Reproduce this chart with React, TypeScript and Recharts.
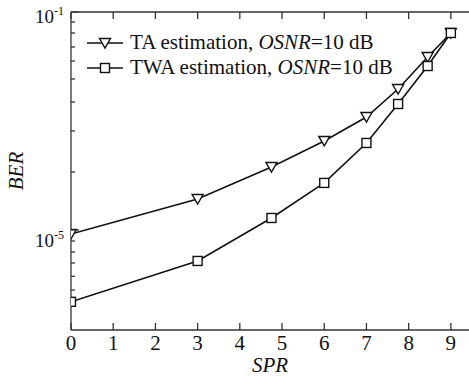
import React from 'react';
import { LineChart, Line, XAxis, YAxis } from 'recharts';

// samples per round (x) and bit error rate for both estimators
const spr = [0, 3, 4.75, 6, 7, 7.75, 8.45, 9];
const berTA = [8.45e-6, 3.7e-5, 1.43e-4, 4.3e-4, 1.18e-3, 3.86e-3, 0.0149, 0.0412];
const berTWA = [4.8e-7, 2.7e-6, 1.66e-5, 7.3e-5, 3.95e-4, 2.05e-3, 0.0102, 0.0412];

const xTicks = [0, 1, 2, 3, 4, 5, 6, 7, 8, 9];
const yMajorTicks = [0.1, 1e-5];
const yMinorTicks = [
  0.0656, 0.0412, 0.0228, 0.0126, 0.0059, 0.00223, 0.000656, 0.000116,
  6.28e-6, 3.94e-6, 2.48e-6, 1.41e-6, 7.9e-7,
];
const yDomain = [1.46e-7, 0.1];
const xDomain = [0, 9.43];

const data = spr.map((x, i) => ({ x, ta: berTA[i], twa: berTWA[i] }));

const FONT = 'Liberation Serif, Times New Roman, Times, serif';
const AXIS = '#333';
const INK = '#111';
const serif = { fontFamily: FONT };

const BottomTick = ({ x, y, payload }: any) => (
  <g>
    <line x1={x} y1={y} x2={x} y2={y - 7} stroke={AXIS} strokeWidth={1.3} />
    <text x={x} y={y + 20} textAnchor="middle" fontSize={21} style={serif} fill={INK}>
      {payload.value}
    </text>
  </g>
);

const TopTick = ({ x, y }: any) => (
  <line x1={x} y1={y} x2={x} y2={y + 7} stroke={AXIS} strokeWidth={1.3} />
);

const LeftTick = ({ x, y, payload }: any) => {
  const major = yMajorTicks.includes(payload.value);
  const exp = Math.round(Math.log10(payload.value));
  return (
    <g>
      <line x1={x} y1={y} x2={x + (major ? 8 : 4)} y2={y} stroke={AXIS} strokeWidth={1.3} />
      {major && (
        <text x={35} y={y + (payload.value === 0.1 ? 11 : 17)} fontSize={19} style={serif} fill={INK}>
          10<tspan dy={-8} fontSize={12}>{exp}</tspan>
        </text>
      )}
    </g>
  );
};

const RightTick = ({ x, y, payload }: any) => {
  const major = yMajorTicks.includes(payload.value);
  return <line x1={x} y1={y} x2={x - (major ? 7 : 4)} y2={y} stroke={AXIS} strokeWidth={1.3} />;
};

const TriangleDot = ({ cx, cy }: any) => {
  if (cx == null || cy == null) return null;
  return (
    <polygon
      points={`${cx - 5.5},${cy - 4.5} ${cx + 5.5},${cy - 4.5} ${cx},${cy + 5}`}
      fill="#fff"
      stroke={INK}
      strokeWidth={1.4}
    />
  );
};

const SquareDot = ({ cx, cy }: any) => {
  if (cx == null || cy == null) return null;
  return <rect x={cx - 4.5} y={cy - 4.5} width={9} height={9} fill="#fff" stroke={INK} strokeWidth={1.4} />;
};

const legendRows = [
  { name: 'TA estimation, ', Dot: TriangleDot, y: 43 },
  { name: 'TWA estimation, ', Dot: SquareDot, y: 68 },
];

export default function App() {
  return (
    <div style={{ position: 'absolute', left: 0, top: 0, width: 469, height: 378, background: '#fff' }}>
      <LineChart width={469} height={378} data={data} margin={{ top: 0, right: 0, bottom: 0, left: 0 }}>
        <XAxis
          xAxisId="b"
          dataKey="x"
          type="number"
          domain={xDomain}
          ticks={xTicks}
          interval={0}
          height={48}
          tickSize={0}
          tickMargin={0}
          tick={<BottomTick />}
          axisLine={{ stroke: AXIS, strokeWidth: 1.3 }}
          allowDataOverflow
          label={({ viewBox }: any) => (
            <text
              x={viewBox.x + viewBox.width / 2}
              y={372}
              textAnchor="middle"
              fontSize={21}
              fontStyle="italic"
              style={serif}
              fill={INK}
            >
              SPR
            </text>
          )}
        />
        <XAxis
          xAxisId="t"
          orientation="top"
          dataKey="x"
          type="number"
          domain={xDomain}
          ticks={xTicks}
          interval={0}
          height={12}
          tickSize={0}
          tickMargin={0}
          tick={<TopTick />}
          axisLine={{ stroke: AXIS, strokeWidth: 1.3 }}
          allowDataOverflow
        />
        <YAxis
          yAxisId="l"
          type="number"
          scale="log"
          domain={yDomain}
          ticks={[...yMajorTicks, ...yMinorTicks]}
          interval={0}
          width={71}
          tickSize={0}
          tickMargin={0}
          tick={<LeftTick />}
          axisLine={{ stroke: AXIS, strokeWidth: 1.3 }}
          allowDataOverflow
          label={({ viewBox }: any) => {
            const cy = viewBox.y + viewBox.height / 2;
            return (
              <text
                x={23}
                y={cy}
                transform={`rotate(-90, 23, ${cy})`}
                textAnchor="middle"
                fontSize={21}
                fontStyle="italic"
                style={serif}
                fill={INK}
              >
                BER
              </text>
            );
          }}
        />
        <YAxis
          yAxisId="r"
          orientation="right"
          type="number"
          scale="log"
          domain={yDomain}
          ticks={[...yMajorTicks, ...yMinorTicks]}
          interval={0}
          width={0}
          tickSize={0}
          tickMargin={0}
          tick={<RightTick />}
          axisLine={{ stroke: AXIS, strokeWidth: 1.3 }}
          allowDataOverflow
        />
        <Line
          xAxisId="b"
          yAxisId="l"
          dataKey="ta"
          stroke={INK}
          strokeWidth={1.6}
          dot={<TriangleDot />}
          isAnimationActive={false}
        />
        <Line
          xAxisId="b"
          yAxisId="l"
          dataKey="twa"
          stroke={INK}
          strokeWidth={1.6}
          dot={<SquareDot />}
          isAnimationActive={false}
        />
      </LineChart>
      <svg width={469} height={378} style={{ position: 'absolute', left: 0, top: 0, pointerEvents: 'none' }}>
        {legendRows.map(({ name, Dot, y }) => (
          <g key={name}>
            <line x1={87} y1={y} x2={123} y2={y} stroke={INK} strokeWidth={1.6} />
            <Dot cx={105} cy={y} />
            <text x={130} y={y + 6} fontSize={21} style={serif} fill={INK}>
              {name}
              <tspan fontStyle="italic">OSNR</tspan>=10 dB
            </text>
          </g>
        ))}
      </svg>
    </div>
  );
}
